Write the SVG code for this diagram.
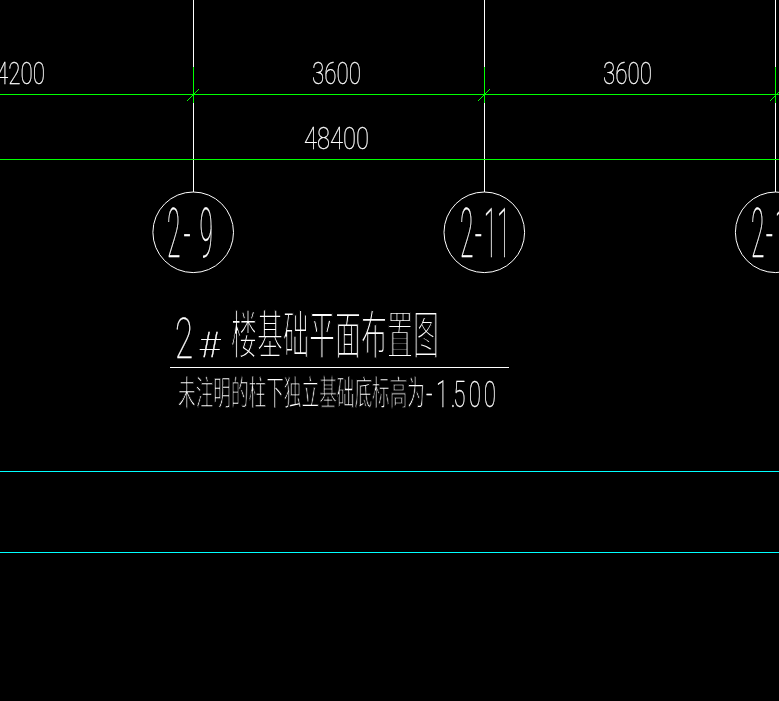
<svg xmlns="http://www.w3.org/2000/svg" width="779" height="701" viewBox="0 0 779 701">
<style>
.w{stroke:#fff;stroke-width:1;fill:none}
.g{stroke:#0f0;stroke-width:1;fill:none}
.y{stroke:#0ff;stroke-width:1;fill:none}
.t{fill:#fff;stroke:#fff;stroke-width:.3;font-family:Roboto,"Liberation Sans",sans-serif;font-weight:100}
.c{fill:#fff;stroke:#000;font-family:"Noto Sans CJK SC","Liberation Sans",sans-serif;font-weight:400}
</style>
<defs><filter id="gray" filterUnits="userSpaceOnUse" x="0" y="0" width="779" height="701" color-interpolation-filters="sRGB"><feOffset dx="0" dy="0"/></filter></defs>
<rect width="779" height="701" fill="#000"/>
<g id="connectors">
<path class="w" d="M193.500 0V192M484.500 0V192M775.500 0V192"/>
<path class="g" d="M0 94.500H779M0 159.500H779"/>
<path class="g" d="M193.500 67V103M187 101L199 89M484.500 67V103M478 101L490 89M775.500 67V103M770 101L779 92"/>
<path class="w" d="M170 367.500H509"/>
<path class="y" d="M0 471.500H779M0 552.500H779"/>
</g>
<g id="dimensions" filter="url(#gray)">
<text class="t" x="-4" y="84" font-size="32" textLength="49" lengthAdjust="spacingAndGlyphs">4200</text>
<text class="t" x="312" y="84" font-size="32" textLength="49" lengthAdjust="spacingAndGlyphs">3600</text>
<text class="t" x="603" y="84" font-size="32" textLength="49" lengthAdjust="spacingAndGlyphs">3600</text>
<text class="t" x="304" y="149" font-size="32" textLength="65" lengthAdjust="spacingAndGlyphs">48400</text>
</g>
<g id="axis-2-9" filter="url(#gray)"><circle class="w" cx="193.200" cy="232.300" r="40.300"/><text class="t" transform="translate(167,257) scale(.36,1)" x="0 46 90" font-size="68">2-9</text></g>
<g id="axis-2-11" filter="url(#gray)"><circle class="w" cx="484.300" cy="232.300" r="40.300"/><text class="t" transform="translate(460,257) scale(.36,1)" x="0 41 66 103" font-size="68">2-11</text></g>
<g id="axis-2-13" filter="url(#gray)"><circle class="w" cx="775.700" cy="232.300" r="40.300"/><text class="t" transform="translate(751,257) scale(.36,1)" x="0 41 66 103" font-size="68">2-13</text></g>
<g id="title" filter="url(#gray)">
<text class="t" x="175" y="358" font-size="56" textLength="18" lengthAdjust="spacingAndGlyphs">2</text>
<text class="t" x="199" y="357" font-size="35" textLength="21" lengthAdjust="spacingAndGlyphs">#</text>
<text class="c" x="231" y="354" font-size="52" stroke-width="2" textLength="208" lengthAdjust="spacingAndGlyphs">楼基础平面布置图</text>
<text class="c" x="178" y="405" font-size="34" stroke-width="1.300" textLength="247" lengthAdjust="spacingAndGlyphs">未注明的柱下独立基础底标高为</text>
<text class="t" transform="translate(426,407) scale(.62,1)" x="0 16 40 44 69 93" font-size="36">-1.500</text>
</g>
</svg>
